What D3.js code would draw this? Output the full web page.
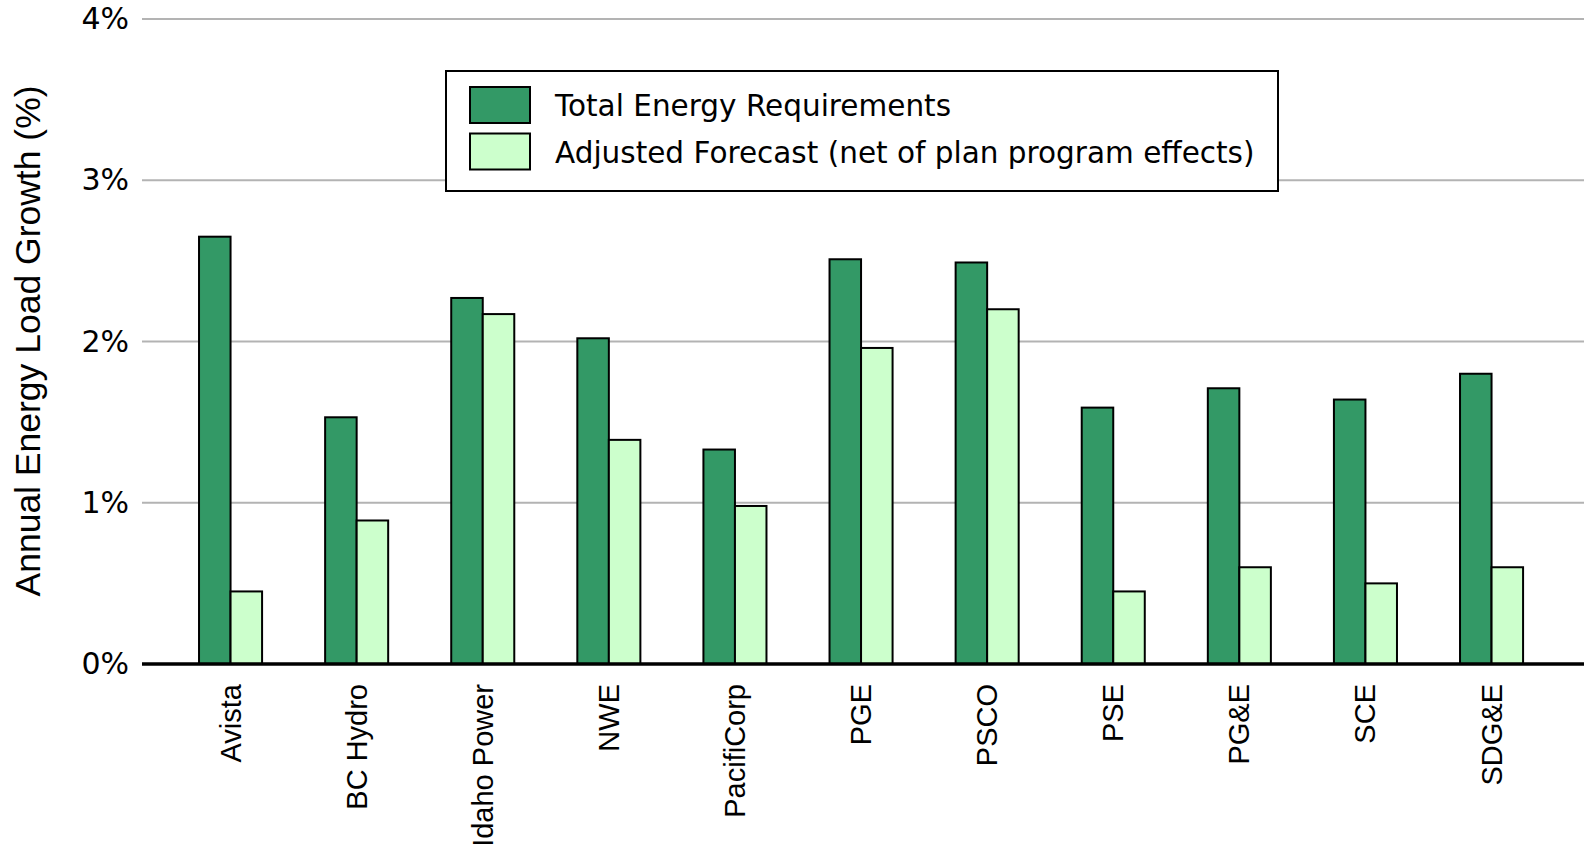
<!DOCTYPE html>
<head>
<meta charset="utf-8" />
</head>
<style>
body { margin: 0; background: #fff; }
svg { display: block; }
.tick text { font-family: "DejaVu Sans", sans-serif; font-size: 30px; fill: #000; }
.xlab { font-family: "Liberation Sans", Arial, sans-serif; font-size: 29px; }
.ytitle { font-family: "Liberation Sans", Arial, sans-serif; font-size: 35.5px; }
.legend text { font-family: "DejaVu Sans", sans-serif; font-size: 29.5px; }
</style>
<body>
<script src="https://cdn.jsdelivr.net/npm/d3@7"></script>
<script>
var companies = ["Avista", "BC Hydro", "Idaho Power", "NWE", "PacifiCorp", "PGE", "PSCO", "PSE", "PG&E", "SCE", "SDG&E"];
var totalReq = [2.65, 1.53, 2.27, 2.02, 1.33, 2.51, 2.49, 1.59, 1.71, 1.64, 1.80];
var adjusted = [0.45, 0.89, 2.17, 1.39, 0.98, 1.96, 2.20, 0.45, 0.60, 0.50, 0.60];
var seriesNames = ["Total Energy Requirements", "Adjusted Forecast (net of plan program effects)"];
var colors = ["#339966", "#ccffcc"];
var yTicks = [0, 1, 2, 3, 4];

var width = 1584, height = 850;
var plotLeft = 142, plotRight = 1584;

var svg = d3.select("body").append("svg")
  .attr("width", width)
  .attr("height", height);

var y = d3.scaleLinear().domain([0, 4]).range([664, 19]);

var x = d3.scaleBand()
  .domain(companies)
  .range([167.5, 1554.6])
  .paddingInner(0.5)
  .paddingOuter(0.25);

var xs = d3.scaleBand()
  .domain([0, 1])
  .range([0, x.bandwidth()]);

// gridlines
svg.append("g")
  .selectAll("line")
  .data(yTicks.filter(function(d) { return d > 0; }))
  .enter().append("line")
  .attr("x1", plotLeft).attr("x2", plotRight)
  .attr("y1", function(d) { return y(d); })
  .attr("y2", function(d) { return y(d); })
  .attr("stroke", "#b3b3b3")
  .attr("stroke-width", 2);

// y axis labels
var yAxis = svg.append("g")
  .attr("transform", "translate(" + 129 + ",0)")
  .call(d3.axisLeft(y).tickValues(yTicks).tickSize(0).tickPadding(0)
    .tickFormat(function(d) { return d + "%"; }));
yAxis.select(".domain").remove();

// bars
var groups = svg.append("g")
  .selectAll("g")
  .data(companies)
  .enter().append("g")
  .attr("transform", function(d) { return "translate(" + x(d) + ",0)"; });

groups.selectAll("rect")
  .data(function(d, i) { return [totalReq[i], adjusted[i]]; })
  .enter().append("rect")
  .attr("x", function(d, j) { return xs(j); })
  .attr("y", function(d) { return y(d); })
  .attr("width", xs.bandwidth())
  .attr("height", function(d) { return y(0) - y(d); })
  .attr("fill", function(d, j) { return colors[j]; })
  .attr("stroke", "#000")
  .attr("stroke-width", 2);

// baseline
svg.append("line")
  .attr("x1", plotLeft).attr("x2", plotRight)
  .attr("y1", y(0)).attr("y2", y(0))
  .attr("stroke", "#000")
  .attr("stroke-width", 3.5);

// x labels
svg.append("g")
  .selectAll("text")
  .data(companies)
  .enter().append("text")
  .attr("class", "xlab")
  .attr("text-anchor", "end")
  .attr("transform", function(d) {
    return "translate(" + (x(d) + x.bandwidth() / 2 + 10) + "," + 684 + ") rotate(-90)";
  })
  .text(function(d) { return d; });

// y title
svg.append("text")
  .attr("class", "ytitle")
  .attr("text-anchor", "middle")
  .attr("transform", "translate(" + 40 + "," + 341 + ") rotate(-90)")
  .text("Annual Energy Load Growth (%)");

// legend
var legend = svg.append("g").attr("class", "legend");
legend.append("rect")
  .attr("x", 446).attr("y", 71)
  .attr("width", 832).attr("height", 120)
  .attr("fill", "#fff")
  .attr("stroke", "#000")
  .attr("stroke-width", 2);

var items = legend.selectAll("g.item")
  .data(seriesNames)
  .enter().append("g")
  .attr("class", "item")
  .attr("transform", function(d, i) { return "translate(470," + (87 + i * 46.5) + ")"; });
items.append("rect")
  .attr("width", 60).attr("height", 36)
  .attr("fill", function(d, i) { return colors[i]; })
  .attr("stroke", "#000")
  .attr("stroke-width", 2);
items.append("text")
  .attr("x", 85).attr("y", 29)
  .text(function(d) { return d; });
</script>
</body>
